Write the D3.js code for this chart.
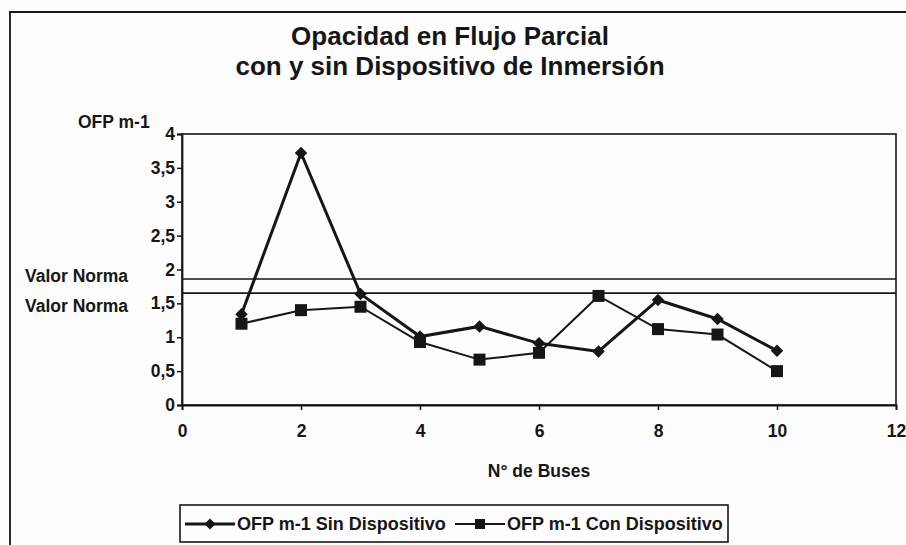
<!DOCTYPE html>
<html>
<head>
<meta charset="utf-8">
<script src="https://cdn.jsdelivr.net/npm/d3@7"></script>
<style>
  html, body { margin: 0; padding: 0; background: #fdfdfd; }
  svg { display: block; }
</style>
</head>
<body>
<svg id="chart"></svg>
<script>
// data
const buses = [1, 2, 3, 4, 5, 6, 7, 8, 9, 10]
const sinDispositivo = [1.34, 3.72, 1.64, 1.01, 1.16, 0.91, 0.79, 1.55, 1.27, 0.8]
const conDispositivo = [1.2, 1.4, 1.45, 0.93, 0.67, 0.77, 1.61, 1.12, 1.04, 0.5]
const valorNorma = [1.86, 1.65]
const xTicks = [0, 2, 4, 6, 8, 10, 12]
const yTicks = [0, 0.5, 1, 1.5, 2, 2.5, 3, 3.5, 4]
const seriesNames = ["OFP m-1 Sin Dispositivo", "OFP m-1 Con Dispositivo"]

const width = 906, height = 545
const margin = {top: 134, right: 10, bottom: 140, left: 182}
const font = "'Liberation Sans', Arial, sans-serif"
const ink = "#161616"

const es = d3.formatLocale({decimal: ",", thousands: ".", grouping: [3], currency: ["", "€"]})
const fmt = es.format("~g")

const svg = d3.select("#chart")
    .attr("width", width)
    .attr("height", height)
    .attr("font-family", font)
    .attr("font-weight", "bold")
    .attr("fill", ink)

// outer frame (only top and left edges are visible in the scan)
svg.append("path")
    .attr("d", `M10,${height} V12 H${width}`)
    .attr("fill", "none")
    .attr("stroke", ink)
    .attr("stroke-width", 1.8)

svg.append("g")
    .attr("font-size", 26)
    .attr("text-anchor", "middle")
    .selectAll("text")
    .data(["Opacidad en Flujo Parcial", "con y sin Dispositivo de Inmersión"])
    .join("text")
    .attr("x", 450)
    .attr("y", (d, i) => 45 + i * 30)
    .text(d => d)

let x = d3.scaleLinear()
    .domain([0, 12])
    .range([margin.left, width - margin.right])
let y = d3.scaleLinear()
    .domain([0, 4])
    .range([height - margin.bottom, margin.top])

// plot area box
svg.append("rect")
    .attr("x", x(0)).attr("y", y(4))
    .attr("width", x(12) - x(0)).attr("height", y(0) - y(4))
    .attr("fill", "none")
    .attr("stroke", ink)
    .attr("stroke-width", 1.6)

let yAxis = g => g
    .attr("transform", `translate(${x(0)},0)`)
    .call(d3.axisLeft(y).tickValues(yTicks).tickFormat(fmt).tickSize(5).tickPadding(2))
    .call(g => g.select(".domain").attr("stroke", ink).attr("stroke-width", 1.8))
    .call(g => g.selectAll(".tick line").attr("stroke", ink).attr("stroke-width", 1.5))
let xAxis = g => g
    .attr("transform", `translate(0,${y(0)})`)
    .call(d3.axisBottom(x).tickValues(xTicks).tickFormat(fmt).tickSize(5).tickPadding(15))
    .call(g => g.select(".domain").attr("stroke", ink).attr("stroke-width", 1.8))
    .call(g => g.selectAll(".tick line").attr("stroke", ink).attr("stroke-width", 1.5))

svg.append("g").call(yAxis)
    .attr("font-size", 17.5).attr("font-family", font).attr("font-weight", "bold")
    .selectAll("text").attr("fill", ink)
svg.append("g").call(xAxis)
    .attr("font-size", 17.5).attr("font-family", font).attr("font-weight", "bold")
    .selectAll("text").attr("fill", ink)

svg.append("text")
    .attr("x", 78).attr("y", 128)
    .attr("font-size", 17.5)
    .text("OFP m-1")

svg.append("text")
    .attr("x", (x(0) + x(12)) / 2).attr("y", 477)
    .attr("text-anchor", "middle")
    .attr("font-size", 17.5)
    .text("N° de Buses")

// reference lines
svg.append("g")
    .selectAll("line")
    .data(valorNorma)
    .join("line")
    .attr("x1", x(0)).attr("x2", x(12))
    .attr("y1", d => y(d)).attr("y2", d => y(d))
    .attr("stroke", ink)
    .attr("stroke-width", 1.7)
svg.append("g")
    .attr("font-size", 17.5)
    .selectAll("text")
    .data(valorNorma)
    .join("text")
    .attr("x", 25)
    .attr("y", (d, i) => i === 0 ? 282 : 312)
    .text("Valor Norma")

const line = d3.line().x((d, i) => x(buses[i])).y(d => y(d))

svg.append("path")
    .datum(conDispositivo)
    .attr("d", line)
    .attr("fill", "none").attr("stroke", ink).attr("stroke-width", 2)
svg.append("g")
    .selectAll("rect")
    .data(conDispositivo)
    .join("rect")
    .attr("x", (d, i) => x(buses[i]) - 6)
    .attr("y", d => y(d) - 6)
    .attr("width", 12).attr("height", 12)
    .attr("fill", ink)

svg.append("path")
    .datum(sinDispositivo)
    .attr("d", line)
    .attr("fill", "none").attr("stroke", ink).attr("stroke-width", 3)
svg.append("g")
    .selectAll("path")
    .data(sinDispositivo)
    .join("path")
    .attr("d", d3.symbol(d3.symbolDiamond2, 100))
    .attr("transform", (d, i) => `translate(${x(buses[i])},${y(d)})`)
    .attr("fill", ink)

// legend
const legend = svg.append("g")
legend.append("rect")
    .attr("x", 180).attr("y", 505)
    .attr("width", 548).attr("height", 37)
    .attr("fill", "none").attr("stroke", ink).attr("stroke-width", 1.6)
const legendItems = [
    {name: seriesNames[0], x0: 185, sym: "diamond", w: 3},
    {name: seriesNames[1], x0: 455, sym: "square", w: 2}
]
legendItems.forEach(it => {
    legend.append("line")
        .attr("x1", it.x0).attr("x2", it.x0 + 50)
        .attr("y1", 524).attr("y2", 524)
        .attr("stroke", ink).attr("stroke-width", it.w)
    if (it.sym === "diamond") {
        legend.append("path")
            .attr("d", d3.symbol(d3.symbolDiamond2, 80))
            .attr("transform", `translate(${it.x0 + 25},524)`)
            .attr("fill", ink)
    } else {
        legend.append("rect")
            .attr("x", it.x0 + 20).attr("y", 519)
            .attr("width", 10).attr("height", 10)
            .attr("fill", ink)
    }
    legend.append("text")
        .attr("x", it.x0 + 52).attr("y", 530)
        .attr("font-size", 18)
        .text(it.name)
})
</script>
</body>
</html>
